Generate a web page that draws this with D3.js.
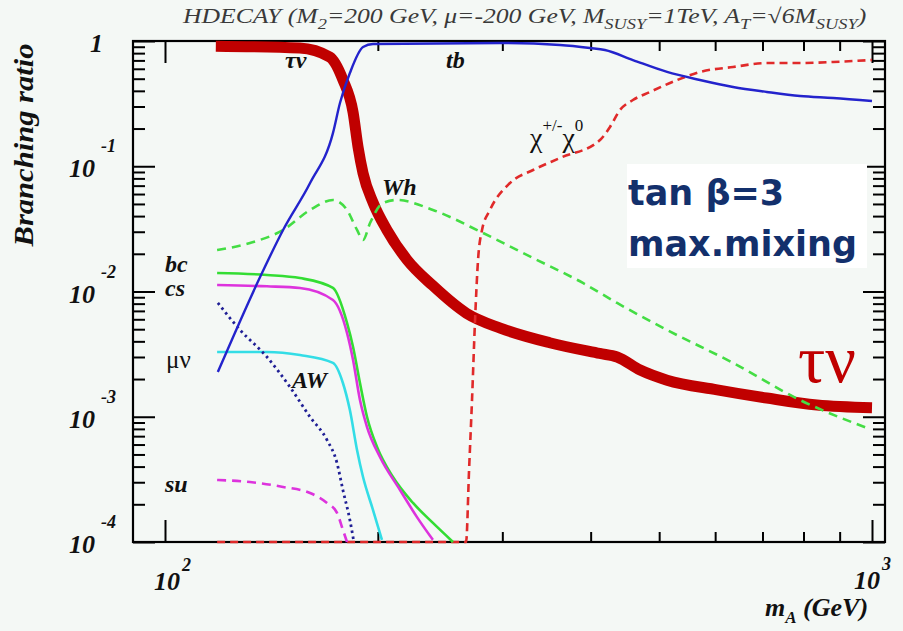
<!DOCTYPE html>
<html><head><meta charset="utf-8">
<script src="https://cdn.jsdelivr.net/npm/d3@7"></script>
<style>body{margin:0;background:#f4f8f5;} svg{display:block;}</style>
</head><body>
<svg id="c" width="903" height="631"></svg>
<script>
// ---- data (m_A in GeV, branching ratio) ----
const tauNuMass = [118, 155, 171, 178.5, 184.5, 187.5, 190.6, 197, 206, 220, 239, 267, 298, 350, 412, 436, 470, 513, 604, 710, 836, 1000];
const tauNuBR   = [0.91, 0.88, 0.745, 0.49, 0.27, 0.143, 0.088, 0.051, 0.031, 0.0179, 0.0112, 0.0067, 0.0051, 0.0039, 0.0032, 0.0030, 0.00236, 0.00196, 0.00164, 0.00141, 0.00124, 0.00118];

const tbMass = [118.8, 136.3, 146.9, 160.4, 172.8, 176.8, 182.6, 190.6, 196.9, 297.7, 362, 399, 419, 459, 513, 571, 636, 710, 791, 881, 1000];
const tbBR   = [0.00228, 0.01305, 0.031, 0.0735, 0.184, 0.32, 0.555, 0.896, 0.946, 0.964, 0.929, 0.879, 0.848, 0.705, 0.566, 0.488, 0.429, 0.392, 0.364, 0.351, 0.332];

const whMass = [118.5, 131.9, 146.9, 160.4, 172.8, 180.9, 186.9, 190.6, 195, 203.4, 212.9, 239.3, 281.8, 331.6, 390, 436, 513, 636, 791, 984];
const whBR   = [0.0214, 0.0244, 0.031, 0.0448, 0.0538, 0.0448, 0.031, 0.0258, 0.0352, 0.0509, 0.0538, 0.0448, 0.0293, 0.0185, 0.0117, 0.0081, 0.00493, 0.00269, 0.00136, 0.000813];

const chiMass = [118.5, 266.6, 269.2, 271.8, 274.5, 277.2, 280.8, 288.2, 307.6, 331.6, 362, 412.4, 426, 440, 459, 485.3, 530, 571, 636, 710, 791, 881, 1000];
const chiBR   = [0.0001, 0.0001, 0.000376, 0.00136, 0.00592, 0.0179, 0.031, 0.0448, 0.0735, 0.0933, 0.1164, 0.162, 0.206, 0.281, 0.338, 0.392, 0.488, 0.566, 0.62, 0.667, 0.667, 0.68, 0.705];

const bcMass = [118.5, 139.4, 155.2, 172.8, 180.9, 184.5, 188.7, 193.1, 199.5, 210.1, 224.3, 239.3, 255.5];
const bcBR   = [0.01406, 0.01355, 0.0128, 0.01067, 0.00561, 0.0036, 0.00186, 0.000995, 0.000573, 0.00033, 0.000205, 0.000142, 0.0001];

const csMass = [118.5, 139.4, 155.2, 172.8, 180.9, 184.5, 188.7, 193.1, 201.4, 215, 227.2, 239.3];
const csBR   = [0.01127, 0.0110, 0.01067, 0.00855, 0.00467, 0.00284, 0.00136, 0.000828, 0.000477, 0.00026, 0.000158, 0.000104];

const muNuMass = [118.5, 139.4, 155.2, 172.8, 178.5, 182.6, 186.9, 190.6, 196.9, 202.7];
const muNuBR   = [0.00329, 0.00329, 0.00311, 0.00269, 0.00186, 0.00113, 0.000543, 0.00033, 0.00018, 0.000104];

const awMass = [118.8, 127.7, 139.4, 150.2, 160.4, 169.5, 175.1, 178.5, 182.6, 185];
const awBR   = [0.0081, 0.00493, 0.0030, 0.00173, 0.000995, 0.000652, 0.000427, 0.00026, 0.00015, 0.0001];

const suMass = [118.5, 131.9, 146.9, 160.4, 169.5, 175.1, 178.5, 180.9];
const suBR   = [0.000313, 0.000301, 0.000275, 0.000246, 0.000205, 0.000171, 0.000125, 0.0001];

const xTickExps = ["2", "3"];
const yTickExps = ["-4", "-3", "-2", "-1"];

// ---- layout ----
const W = 903, H = 631;
const L = 133, R = 885, T = 41, B = 542;
const svg = d3.select("#c");
svg.append("rect").attr("width", W).attr("height", H).attr("fill", "#f4f8f5");

const x = d3.scaleLog().domain([100, 1000]).range([165, 872]);
const y = d3.scaleLog().domain([1e-4, 1]).range([B, T]);
const isMajor = v => Math.abs(Math.log10(v) - Math.round(Math.log10(v))) < 1e-9;

// frame
svg.append("rect").attr("x", L).attr("y", T).attr("width", R - L).attr("height", B - T)
  .attr("fill", "none").attr("stroke", "#000").attr("stroke-width", 2.2);

function ax(gen, tr, vals, size) {
  const g = svg.append("g").attr("transform", tr)
    .call(gen.tickValues(vals).tickSize(size).tickFormat(""));
  g.select(".domain").remove();
  g.selectAll(".tick line").attr("stroke", "#000").attr("stroke-width", 2);
}
const xt = x.ticks(), yt = y.ticks();
const xMin = xt.filter(v => !isMajor(v)), xMaj = xt.filter(isMajor);
const yMin = yt.filter(v => !isMajor(v)), yMaj = yt.filter(isMajor);
ax(d3.axisBottom(x), `translate(0,${B})`, xMin, -10);
ax(d3.axisBottom(x), `translate(0,${B})`, xMaj, -22);
ax(d3.axisTop(x), `translate(0,${T})`, xMin, -10);
ax(d3.axisTop(x), `translate(0,${T})`, xMaj, -22);
ax(d3.axisLeft(y), `translate(${L},0)`, yMin, -12);
ax(d3.axisLeft(y), `translate(${L},0)`, yMaj, -22);
ax(d3.axisRight(y), `translate(${R},0)`, yMin, -12);
ax(d3.axisRight(y), `translate(${R},0)`, yMaj, -22);

// clip
svg.append("clipPath").attr("id", "clip").append("rect")
  .attr("x", L).attr("y", T - 8).attr("width", R - L).attr("height", B - T + 11);
const plot = svg.append("g").attr("clip-path", "url(#clip)");

const zip = (a, b) => a.map((v, i) => [v, b[i]]);
const line = d3.line().x(d => x(d[0])).y(d => y(d[1])).curve(d3.curveMonotoneX);

function draw(m, br, color, width, dash) {
  plot.append("path").datum(zip(m, br)).attr("d", line)
    .attr("fill", "none").attr("stroke", color).attr("stroke-width", width)
    .attr("stroke-dasharray", dash || null).attr("stroke-linejoin", "round");
}
draw(tauNuMass, tauNuBR, "#c00000", 11);
draw(chiMass, chiBR, "#e02a2a", 2.6, "8,5");
draw(whMass, whBR, "#44dd44", 2.6, "9,6");
draw(bcMass, bcBR, "#33dd33", 2.6);
draw(csMass, csBR, "#dd33dd", 2.6);
draw(muNuMass, muNuBR, "#33dde6", 2.6);
draw(suMass, suBR, "#dd33dd", 2.6, "9,6");
draw(awMass, awBR, "#1f1f95", 2.8, "2.5,3.5");
draw(tbMass, tbBR, "#2323cc", 2.4);

// ---- texts ----
const serif = "'Liberation Serif','Times New Roman',serif";
function txt(xp, yp, s, opts = {}) {
  return svg.append("text").attr("x", xp).attr("y", yp).text(s)
    .attr("font-family", opts.family || serif)
    .attr("font-size", opts.size || 26)
    .attr("font-weight", opts.weight || "bold")
    .attr("font-style", opts.style || "italic")
    .attr("fill", opts.fill || "#111")
    .attr("text-anchor", opts.anchor || "start");
}

// y tick labels
txt(103, y(1) + 11, "1", { anchor: "end" });
yMaj.filter(v => v < 1).forEach((v, i) => {
  txt(95, y(v) + 11, "10", { anchor: "end" });
  txt(101, y(v) - 14, yTickExps[i], { size: 18 });
});
// x tick labels
txt(x(100) + 15, 590, "10", { anchor: "end" });
txt(x(100) + 17, 571, xTickExps[0], { size: 18 });
txt(x(1000) + 8, 589, "10", { anchor: "end" });
txt(x(1000) + 10, 570, xTickExps[1], { size: 18 });

// axis titles
svg.append("text").attr("transform", "translate(33,145) rotate(-90)")
  .attr("text-anchor", "middle").attr("font-family", serif).attr("font-size", 28)
  .attr("font-weight", "bold").attr("font-style", "italic").attr("fill", "#111")
  .attr("textLength", 203).attr("lengthAdjust", "spacingAndGlyphs")
  .text("Branching ratio");
const xl = txt(765, 616, "", {});
xl.append("tspan").text("m");
xl.append("tspan").attr("font-size", 17).attr("dy", 7).text("A");
xl.append("tspan").attr("dy", -7).text(" (GeV)");

// title
const tt = svg.append("text").attr("font-family", serif).attr("font-size", 21)
  .attr("font-style", "italic").attr("fill", "#3a3a3a");
const parts = [["HDECAY (M", 0], ["2", 1], ["=200 GeV, μ=-200 GeV, M", 0], ["SUSY", 1], ["=1TeV, A", 0], ["T", 1], ["=√6M", 0], ["SUSY", 1], [")", 0]];
let prev = 0;
parts.forEach(([s, sub]) => {
  tt.append("tspan").attr("dy", (sub ? 6 : 0) - (prev ? 6 : 0))
    .attr("font-size", sub ? 15 : 21).text(s);
  prev = sub;
});
const tw = tt.node().getBBox().width;
tt.attr("transform", `translate(183,23) scale(${685 / tw},1)`);

// curve labels
txt(285, 68, "τν", { size: 24 });
txt(446, 68, "tb", { size: 24 });
txt(382, 195, "Wh", { size: 24 });
txt(165, 272, "bc", { size: 24 });
txt(165, 296, "cs", { size: 24 });
txt(166, 368, "μν", { size: 25, weight: "normal", style: "normal" });
txt(292, 388, "AW", { size: 24 });
txt(165, 492, "su", { size: 24 });
const ct = txt(530, 147, "", { size: 28, weight: "normal", style: "normal" });
ct.append("tspan").text("χ");
ct.append("tspan").attr("font-size", 17).attr("dy", -16).text("+/-");
ct.append("tspan").attr("dy", 16).text("χ");
ct.append("tspan").attr("font-size", 17).attr("dy", -16).text("0");

// annotation box
svg.append("rect").attr("x", 627).attr("y", 164).attr("width", 240).attr("height", 104).attr("fill", "#fff");
const sans = "'DejaVu Sans',sans-serif";
txt(628, 205, "tan β=3", { family: sans, size: 35, style: "normal", fill: "#13306c" });
txt(628, 256, "max.mixing", { family: sans, size: 35, style: "normal", fill: "#13306c" });

// big tau nu
txt(798, 382, "τν", { size: 68, weight: "normal", style: "normal", fill: "#c00000" });
</script>
</body></html>
